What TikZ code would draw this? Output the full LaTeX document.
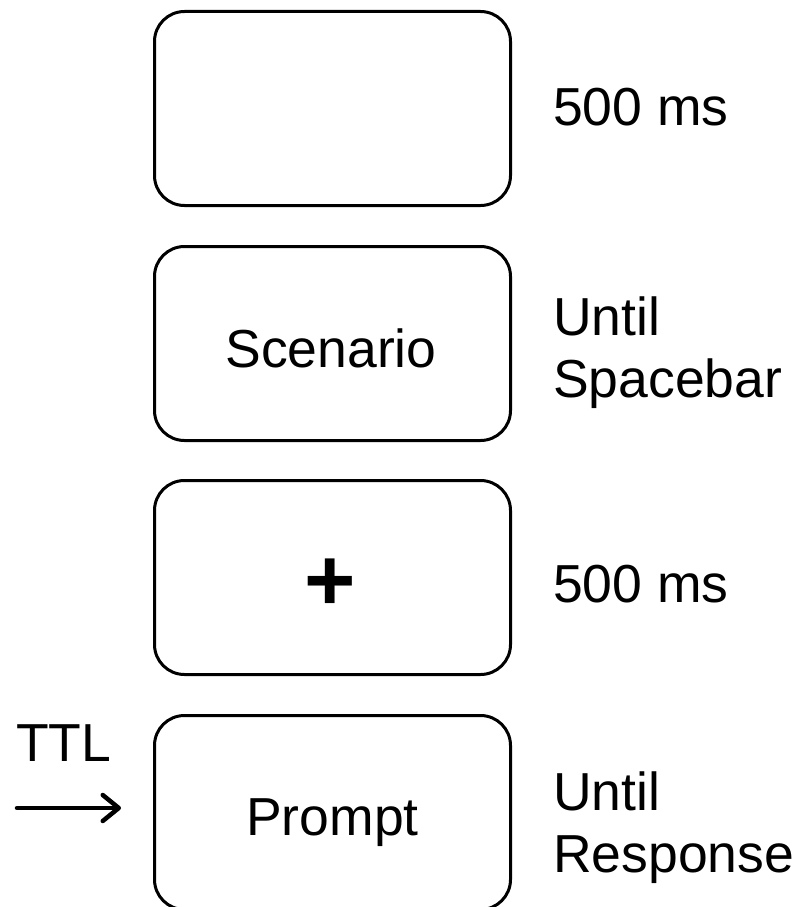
\documentclass[tikz,border=0pt]{standalone}
\usepackage{fontspec}
\setmainfont{Liberation Sans}
\usetikzlibrary{arrows.meta}
\begin{document}
\begin{tikzpicture}[x=1pt,y=-1pt,
  screen/.style={draw=black, line width=3pt, rounded corners=30pt,
    minimum width=356pt, minimum height=194pt, inner sep=0pt},
  lbl/.style={inner sep=0pt, font=\fontsize{53.5}{62}\selectfont},
  dur/.style={lbl, anchor=base west, align=left}]
\useasboundingbox (0,0) rectangle (797,907);
\begin{scope}
\clip (0,0) rectangle (797,907);
\node[screen] (b1) at (332.5,108.5) {};
\node[screen] (b2) at (332.5,343.5) {};
\node[screen] (b3) at (332.5,577.5) {};
\node[screen] (b4) at (332.5,812.5) {};
\end{scope}
\node[lbl, anchor=base] (scen) at (331,367) {Scenario};
\node[lbl, anchor=base] (prompt) at (332.5,835) {Prompt};
\node[inner sep=0pt, font=\fontsize{88}{88}\bfseries] (plus) at (330.5,585) {+};
\node[dur] (d1) at (553,125) {500 ms};
\node[dur] (d2) at (553,397) {Until\\Spacebar};
\node[dur] (d3) at (553,602) {500 ms};
\node[dur] (d4) at (553,872) {Until\\Response};
\node[lbl, anchor=base west] (ttl) at (16,761) {TTL};
\coordinate (ttlstart) at (17,808);
\coordinate (ttlend) at (121,808);
\draw[line width=4.5pt, line cap=round, -{Straight Barb[length=16pt,width=26pt,line width=4.5pt,round]}] (ttlstart) -- (ttlend);
\end{tikzpicture}
\end{document}
